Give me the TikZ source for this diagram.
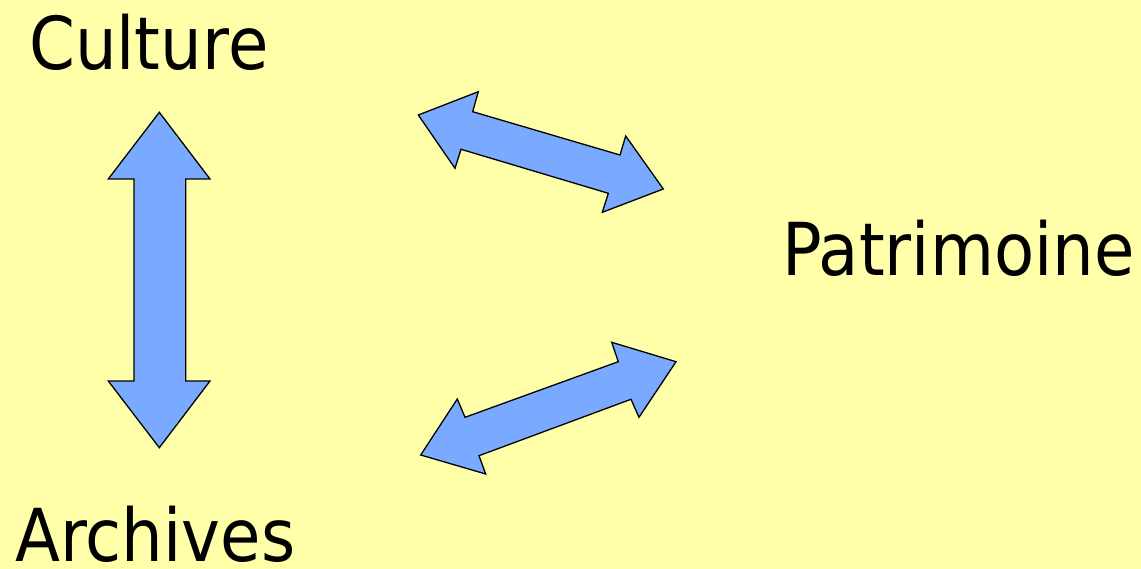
\documentclass[tikz,border=0pt]{standalone}
\usepackage{fontspec}
\setmainfont{DejaVu Sans}[FakeStretch=0.9]
\begin{document}
\begin{tikzpicture}[x=1pt,y=-1pt,
  blockarrow/.style={fill={rgb,255:red,122;green,170;blue,255},draw=black,line width=1.3pt,line join=miter},
  label/.style={anchor=base west,inner sep=0pt,font=\fontsize{73}{80}\selectfont}]
\useasboundingbox[fill={rgb,255:red,255;green,255;blue,170}] (0,0) rectangle (1141,569);
% vertical double arrow
\draw[blockarrow] (159.3,112.3) -- (210,179) -- (185.7,179) -- (185.7,381) -- (210,381)
  -- (159.3,447.7) -- (108.3,381) -- (134,381) -- (134,179) -- (108.3,179) -- cycle;
% upper diagonal double arrow
\draw[blockarrow] (418.3,115) -- (478.3,91.7) -- (472.7,111.7) -- (620,155) -- (625.7,136)
  -- (663.3,189) -- (602.3,212.3) -- (608.3,193.3) -- (461,149.3) -- (455,168.3) -- cycle;
% lower diagonal double arrow
\draw[blockarrow] (420.7,455) -- (457.3,399) -- (465,417.3) -- (618.3,361.7) -- (611.7,342.3)
  -- (676,361.7) -- (639,417.3) -- (631,399.3) -- (479,455.7) -- (485.7,474) -- cycle;
\node[label] (culture) at (29,70) {Culture};
\node[label] (patrimoine) at (782,276) {Patrimoine};
\node[label] (archives) at (15,561) {Archives};
\end{tikzpicture}
\end{document}
